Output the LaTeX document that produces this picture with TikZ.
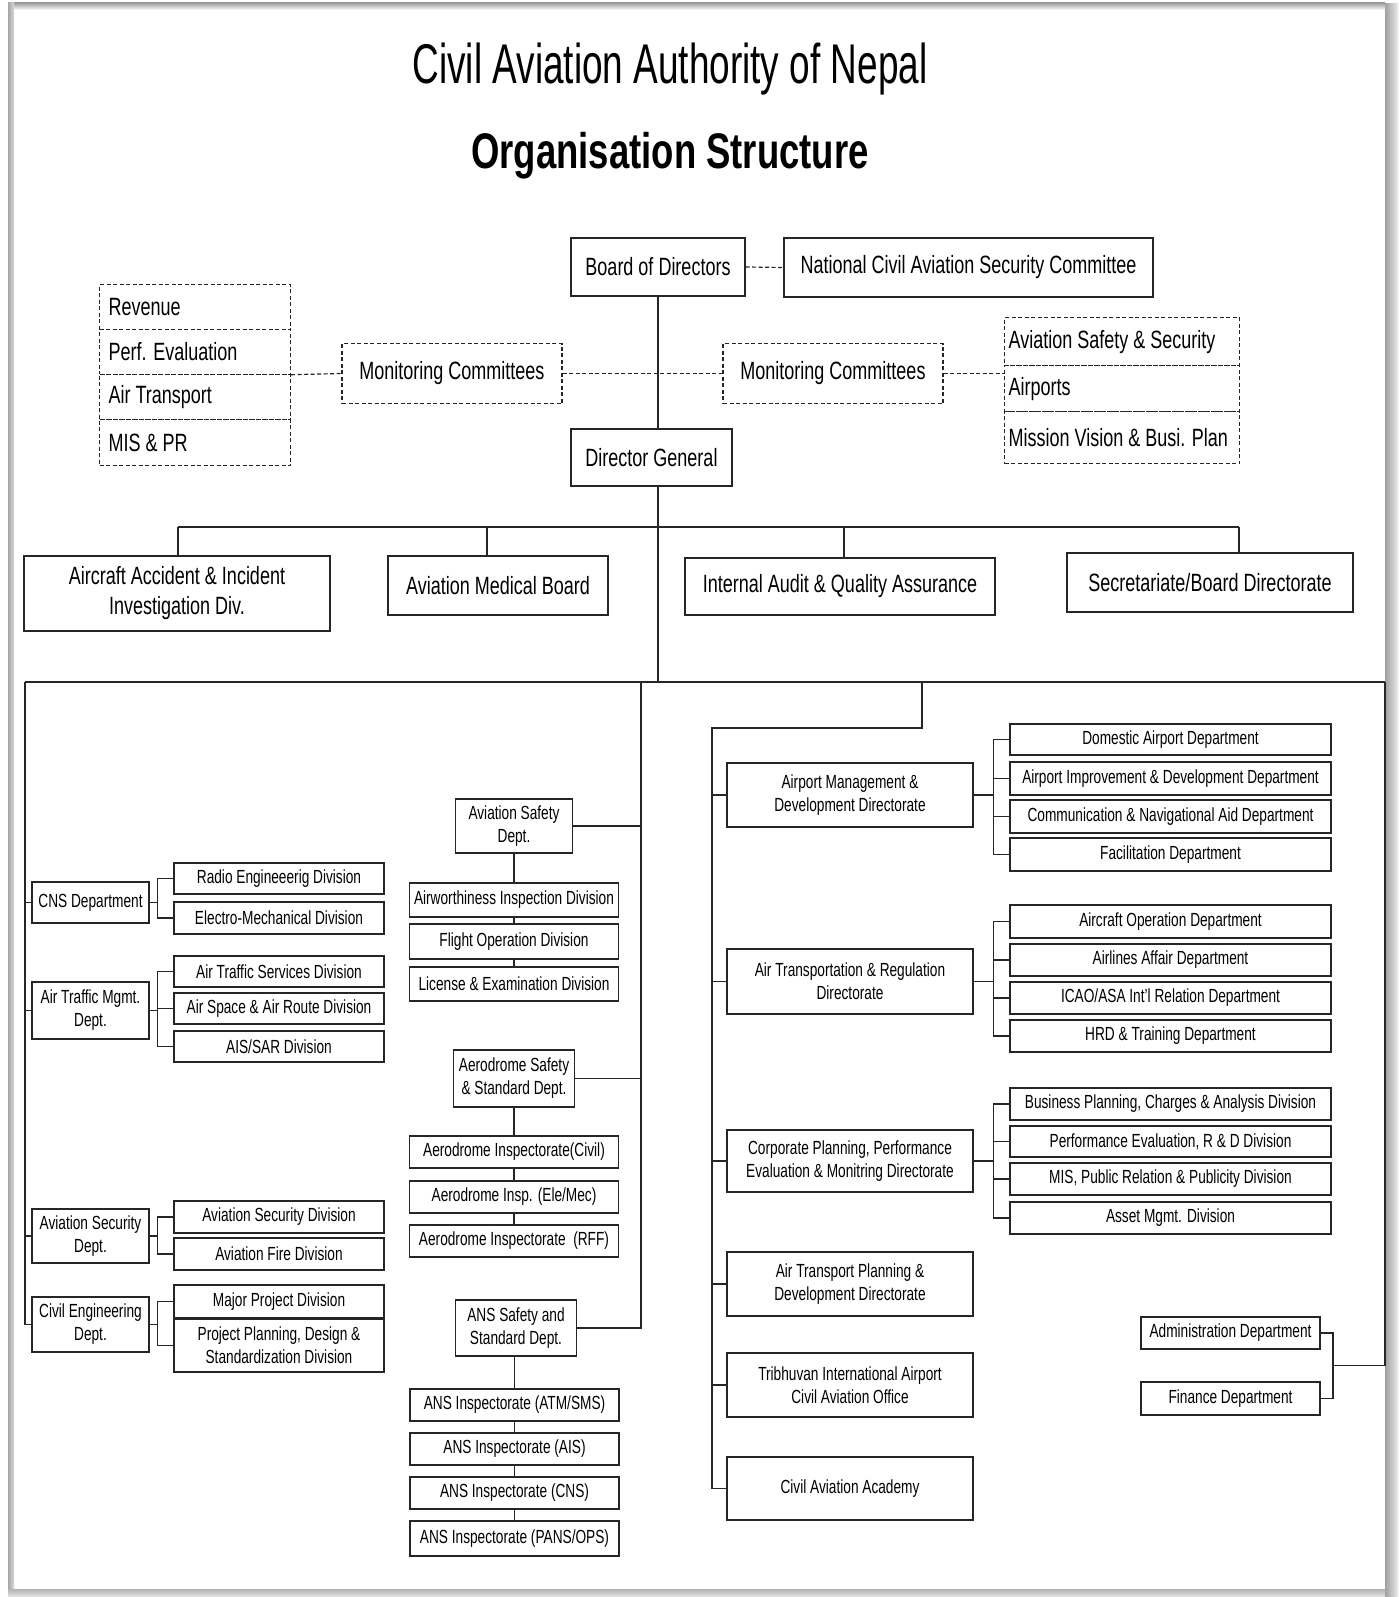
\documentclass[tikz,border=0pt]{standalone}
\usepackage{fontspec}
\setmainfont[FakeStretch=0.72]{Liberation Sans}
\newfontfamily\ttlfont[FakeStretch=0.66]{Liberation Sans}
\newfontfamily\orgfont[FakeStretch=0.73]{Liberation Sans}
\newcommand\fbig{\fontsize{25}{30}\selectfont}
\newcommand\fmed{\fontsize{19}{23}\selectfont}
\begin{document}
\begin{tikzpicture}[x=1pt,y=-1pt,
  sz/.style 2 args={minimum width=#1pt, minimum height=#2pt},
  bx/.style={draw=black!85, line width=1.4pt, fill=white, inner sep=0pt, align=center},
  big/.style={bx, font=\fbig},
  med/.style={bx, font=\fmed},
  dbx/.style={draw=black!85, line width=1.2pt, dash pattern=on 4pt off 2.5pt, inner sep=0pt, font=\fbig},
  ln/.style={draw=black!85, line width=1.4pt},
  dln/.style={draw=black!85, line width=1.2pt, dash pattern=on 4pt off 2.5pt}]
\useasboundingbox (0,0) rectangle (1398,1597);
\fill[white] (0,0) rectangle (1398,1597);
% frame
\shade[left color=gray!75, right color=gray!15] (1385,4) rectangle (1398,1597);
\shade[top color=gray!75, bottom color=white] (8,3) rectangle (1385,10);
\shade[left color=gray!70, right color=gray!30] (8,3) rectangle (14,1592);
\shade[top color=gray!60, bottom color=gray!20] (8,1589) rectangle (1385,1597);

% titles
\node[anchor=base, font=\ttlfont\fontsize{56}{60}\selectfont, inner sep=0pt] (t1) at (670,84) {Civil Aviation Authority of Nepal};
\node[anchor=base, font=\orgfont\bfseries\fontsize{50}{54}\selectfont, inner sep=0pt] (t2) at (670,169) {Organisation Structure};

% top
\node[big, sz={174}{58}] (bod) at (658,267) {Board of Directors};
\node[big, sz={369}{59}] (ncasc) at (968.5,267.5) {National Civil Aviation Security Committee};
\node[big, sz={161}{57}] (dg) at (651.5,457.5) {Director General};
\node[dbx, sz={220}{60}] (lmc) at (452,373.5) {Monitoring Committees};
\node[dbx, sz={220}{60}] (rmc) at (833,373.5) {Monitoring Committees};

% left dashed stack
\node[dbx, anchor=north west, inner xsep=9pt, minimum height=45pt] (rev) at (99,284) {\makebox[173pt][l]{Revenue}};
\node[dbx, anchor=north west, inner xsep=9pt, minimum height=44.5pt] (perf) at (99,329) {\makebox[173pt][l]{Perf. Evaluation}};
\node[dbx, anchor=north west, inner xsep=9pt, minimum height=45.5pt] (airt) at (99,373.5) {\makebox[173pt][l]{Air Transport}};
\node[dbx, anchor=north west, inner xsep=9pt, minimum height=46pt] (mis) at (99,419) {\makebox[173pt][l]{MIS \& PR}};

% right dashed stack
\node[dbx, anchor=north west, inner xsep=4pt, minimum height=48pt] (ass) at (1004,317) {\makebox[227pt][l]{Aviation Safety \& Security}};
\node[dbx, anchor=north west, inner xsep=4pt, minimum height=46pt] (airp) at (1004,365) {\makebox[227pt][l]{Airports}};
\node[dbx, anchor=north west, inner xsep=4pt, minimum height=52pt] (mvb) at (1004,411) {\makebox[227pt][l]{Mission Vision \& Busi. Plan}};

\draw[dln] (bod.east) -- (ncasc.west);
\draw[dln] (perf.south east) -- (lmc.west);
\draw[dln] (lmc.east) -- (rmc.west);
\draw[dln] (rmc.east) -- (rmc.east -| airp.west);

% main line
\coordinate (tbar) at (658,527);
\coordinate (bbar) at (658,682);
\draw[ln] (bod.south) -- (bod.south |- dg.north);
\draw[ln] (dg.south -| bod.south) -- (bbar);

% row of four
\node[big, sz={306}{75}] (aaiid) at (177,593.5) {Aircraft Accident \& Incident\\Investigation Div.};
\node[big, sz={220}{59}] (amb) at (498,585.5) {Aviation Medical Board};
\node[big, sz={310}{57}] (iaqa) at (840,586.5) {Internal Audit \& Quality Assurance};
\node[big, sz={286}{59}] (sbd) at (1210,582.5) {Secretariate/Board Directorate};
\coordinate (d1) at (178,527);
\coordinate (d2) at (487,527);
\coordinate (d3) at (844,527);
\coordinate (d4) at (1239,527);
\draw[ln] (d1) -- (d4);
\draw[ln] (d1) -- (d1 |- aaiid.north);
\draw[ln] (d2) -- (d2 |- amb.north);
\draw[ln] (d3) -- (d3 |- iaqa.north);
\draw[ln] (d4) -- (d4 |- sbd.north);

% big bar
\coordinate (bl) at (25,682);
\coordinate (br) at (1385,682);
\coordinate (ms) at (641,682);
\coordinate (rs1) at (922,682);
\coordinate (rs2) at (922,728);
\coordinate (rs3) at (712,728);
\draw[ln] (bl) -- (br);

% left column
\node[med, sz={117}{41}] (cns) at (90.5,902.5) {CNS Department};
\node[med, sz={117}{57}] (atm) at (90.5,1010.5) {Air Traffic Mgmt.\\Dept.};
\node[med, sz={117}{54}] (avs) at (90.5,1236) {Aviation Security\\Dept.};
\node[med, sz={117}{55}] (ced) at (90.5,1324.5) {Civil Engineering\\Dept.};
\node[med, sz={210}{31}] (rad) at (279,878.5) {Radio Engineeerig Division};
\node[med, sz={210}{32}] (ele) at (279,918) {Electro-Mechanical Division};
\node[med, sz={210}{31}] (ats) at (279,971.5) {Air Traffic Services Division};
\node[med, sz={210}{31}] (asr) at (279,1008.5) {Air Space \& Air Route Division};
\node[med, sz={210}{31}] (aisd) at (279,1046.5) {AIS/SAR Division};
\node[med, sz={210}{32}] (asd2) at (279,1217) {Aviation Security Division};
\node[med, sz={210}{32}] (afd) at (279,1254) {Aviation Fire Division};
\node[med, sz={210}{33}] (mpd) at (279,1301.5) {Major Project Division};
\node[med, sz={210}{53}] (ppd) at (279,1345.5) {Project Planning, Design \&\\Standardization Division};
\draw[ln] (bl) |- (ced.west);
\draw[ln] (bl |- cns.west) -- (cns.west);
\draw[ln] (bl |- atm.west) -- (atm.west);
\draw[ln] (bl |- avs.west) -- (avs.west);
\draw[ln] (cns.east) -- ++(8,0) |- (rad.west);
\draw[ln] (cns.east) -- ++(8,0) |- (ele.west);
\draw[ln] (atm.east) -- ++(8,0) |- (ats.west);
\draw[ln] (atm.east) -- ++(8,0) |- (asr.west);
\draw[ln] (atm.east) -- ++(8,0) |- (aisd.west);
\draw[ln] (avs.east) -- ++(8,0) |- (asd2.west);
\draw[ln] (avs.east) -- ++(8,0) |- (afd.west);
\draw[ln] (ced.east) -- ++(8,0) |- (mpd.west);
\draw[ln] (ced.east) -- ++(8,0) |- (ppd.west);

% middle column
\node[med, sz={117}{54}] (asafd) at (514,826) {Aviation Safety\\Dept.};
\node[med, sz={209}{34}] (aid) at (514,900) {Airworthiness Inspection Division};
\node[med, sz={209}{35}] (fod) at (514,941.5) {Flight Operation Division};
\node[med, sz={209}{34}] (led) at (514,984) {License \& Examination Division};
\node[med, sz={121}{57}] (assd) at (514,1078.5) {Aerodrome Safety\\\& Standard Dept.};
\node[med, sz={209}{32}] (aic) at (514,1152) {Aerodrome Inspectorate(Civil)};
\node[med, sz={209}{32}] (aie) at (514,1197) {Aerodrome Insp. (Ele/Mec)};
\node[med, sz={209}{32}] (air) at (514,1241) {Aerodrome Inspectorate\ \ (RFF)};
\node[med, sz={121}{56}] (anss) at (516,1328) {ANS Safety and\\Standard Dept.};
\node[med, sz={209}{32}] (an1) at (514.5,1405) {ANS Inspectorate (ATM/SMS)};
\node[med, sz={209}{32}] (an2) at (514.5,1449) {ANS Inspectorate (AIS)};
\node[med, sz={209}{32}] (an3) at (514.5,1493) {ANS Inspectorate (CNS)};
\node[med, sz={209}{35}] (an4) at (514.5,1538.5) {ANS Inspectorate (PANS/OPS)};
\draw[ln] (ms) |- (anss.east);
\draw[ln] (asafd.east) -- (asafd.east -| ms);
\draw[ln] (assd.east) -- (assd.east -| ms);
\draw[ln] (asafd.south) -- (aid.north);
\draw[ln] (aid.south) -- (fod.north);
\draw[ln] (fod.south) -- (led.north);
\draw[ln] (assd.south) -- (aic.north);
\draw[ln] (aic.south) -- (aie.north);
\draw[ln] (aie.south) -- (air.north);
\draw[ln] (anss.south -| an1.north) -- (an1.north);
\draw[ln] (an1.south) -- (an2.north);
\draw[ln] (an2.south) -- (an3.north);
\draw[ln] (an3.south) -- (an4.north);

% right column
\node[med, sz={246}{64}] (amdd) at (850,795) {Airport Management \&\\Development Directorate};
\node[med, sz={321}{31}] (dad) at (1170.5,739.5) {Domestic Airport Department};
\node[med, sz={321}{33}] (aidd) at (1170.5,778.5) {Airport Improvement \& Development Department};
\node[med, sz={321}{33}] (cnad) at (1170.5,816.5) {Communication \& Navigational Aid Department};
\node[med, sz={321}{33}] (fdd) at (1170.5,854.5) {Facilitation Department};
\node[med, sz={246}{65}] (atrd) at (850,981.5) {Air Transportation \& Regulation\\Directorate};
\node[med, sz={321}{33}] (aod) at (1170.5,921.5) {Aircraft Operation Department};
\node[med, sz={321}{32}] (aad) at (1170.5,960) {Airlines Affair Department};
\node[med, sz={321}{32}] (icao) at (1170.5,998) {ICAO/ASA Int'l Relation Department};
\node[med, sz={321}{32}] (hrd) at (1170.5,1036) {HRD \& Training Department};
\node[med, sz={246}{62}] (cpp) at (850,1161) {Corporate Planning, Performance\\Evaluation \& Monitring Directorate};
\node[med, sz={321}{32}] (bpc) at (1170.5,1104) {Business Planning, Charges \& Analysis Division};
\node[med, sz={321}{31}] (per) at (1170.5,1141.5) {Performance Evaluation, R \& D Division};
\node[med, sz={321}{32}] (mpr) at (1170.5,1179) {MIS, Public Relation \& Publicity Division};
\node[med, sz={321}{32}] (amd) at (1170.5,1218) {Asset Mgmt. Division};
\node[med, sz={246}{64}] (atp) at (850,1284) {Air Transport Planning \&\\Development Directorate};
\node[med, sz={246}{64}] (tia) at (850,1385) {Tribhuvan International Airport\\Civil Aviation Office};
\node[med, sz={246}{63}] (caa) at (850,1488.5) {Civil Aviation Academy};
\node[med, sz={179}{32}] (adm) at (1230.5,1333) {Administration Department};
\node[med, sz={179}{33}] (fin) at (1230.5,1398.5) {Finance Department};
\draw[ln] (rs1) -- (rs2) -- (rs3) |- (caa.west);
\draw[ln] (rs3 |- amdd.west) -- (amdd.west);
\draw[ln] (rs3 |- atrd.west) -- (atrd.west);
\draw[ln] (rs3 |- cpp.west) -- (cpp.west);
\draw[ln] (rs3 |- atp.west) -- (atp.west);
\draw[ln] (rs3 |- tia.west) -- (tia.west);
\foreach \c in {dad,aidd,cnad,fdd} \draw[ln] (amdd.east) -- ++(20,0) |- (\c.west);
\foreach \c in {aod,aad,icao,hrd} \draw[ln] (atrd.east) -- ++(20,0) |- (\c.west);
\foreach \c in {bpc,per,mpr,amd} \draw[ln] (cpp.east) -- ++(20,0) |- (\c.west);
\coordinate (abx) at (1333,1365.75);
\draw[ln] (adm.east) -| (abx) |- (fin.east);
\draw[ln] (abx) -- (abx -| br) -- (br);
\end{tikzpicture}
\end{document}
